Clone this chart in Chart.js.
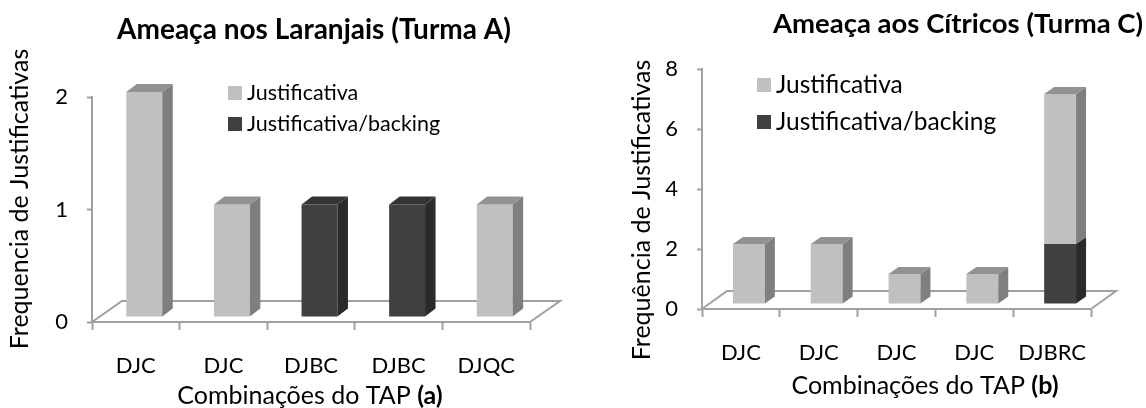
<!DOCTYPE html>
<html>
<head>
<meta charset="utf-8">
<script src="https://cdn.jsdelivr.net/npm/chart.js@4.4.0/dist/chart.umd.min.js"></script>
<style>
    html, body { margin: 0; padding: 0; background: #fff; overflow: hidden; }
    .box { position: absolute; top: 0; width: 573px; height: 408px; }
</style>
</head>
<body>
<div class="box" style="left:0"><canvas id="chartA" width="573" height="408"></canvas></div>
<div class="box" style="left:573px"><canvas id="chartC" width="573" height="408"></canvas></div>

<script>
// Turma A - Ameaca nos Laranjais
var labelsA = ['DJC', 'DJC', 'DJBC', 'DJBC', 'DJQC'];
var justificativaA = [2, 1, 0, 0, 1];
var backingA = [0, 0, 1, 1, 0];
var ticksA = [0, 1, 2];

// Turma C - Ameaca aos Citricos
var labelsC = ['DJC', 'DJC', 'DJC', 'DJC', 'DJBRC'];
var justificativaC = [2, 2, 1, 1, 5];
var backingC = [0, 0, 0, 0, 2];
var ticksC = [0, 2, 4, 6, 8];

var FONT = 'Lato, "Open Sans", sans-serif';
var LIGHT = '#c0c0c0';
var DARK = '#404040';
var AXIS = '#a0a0a0';

// side / top shades for the fake 3D look
var shades = {};
shades[LIGHT] = { side: '#7f7f7f', top: '#929292' };
shades[DARK] = { side: '#2a2a2a', top: '#343434' };

// draws the floor, then the bars shifted back a bit, then their side and top faces
var bar3d = {
    id: 'bar3d',
    beforeDatasetsDraw: function(chart, args, opts) {
        var a = chart.chartArea, ctx = chart.ctx;
        ctx.save();
        ctx.strokeStyle = AXIS;
        ctx.lineWidth = 2;
        ctx.beginPath();
        ctx.moveTo(a.left, a.bottom);
        ctx.lineTo(a.left + opts.floor[0], a.bottom + opts.floor[1]);
        ctx.lineTo(a.right + opts.floor[0], a.bottom + opts.floor[1]);
        ctx.lineTo(a.right, a.bottom);
        ctx.stroke();
        ctx.restore();
        ctx.save();
        ctx.translate(opts.shift[0], opts.shift[1]);
    },
    afterDatasetsDraw: function(chart, args, opts) {
        var ctx = chart.ctx, dx = opts.depth[0], dy = opts.depth[1];
        var sets = chart.data.datasets;
        for (var i = 0; i < chart.data.labels.length; i++) {
            var topIdx = -1;
            sets.forEach(function(ds, d) { if (ds.data[i] > 0) topIdx = d; });
            sets.forEach(function(ds, d) {
                if (!(ds.data[i] > 0)) return;
                var p = chart.getDatasetMeta(d).data[i].getProps(['x', 'y', 'base', 'width'], true);
                var l = p.x - p.width / 2, r = p.x + p.width / 2;
                var c = shades[ds.backgroundColor];
                ctx.fillStyle = c.side;
                ctx.beginPath();
                ctx.moveTo(r, p.base);
                ctx.lineTo(r + dx, p.base + dy);
                ctx.lineTo(r + dx, p.y + dy);
                ctx.lineTo(r, p.y);
                ctx.closePath();
                ctx.fill();
                if (d === topIdx) {
                    ctx.fillStyle = c.top;
                    ctx.beginPath();
                    ctx.moveTo(l, p.y);
                    ctx.lineTo(l + dx, p.y + dy);
                    ctx.lineTo(r + dx, p.y + dy);
                    ctx.lineTo(r, p.y);
                    ctx.closePath();
                    ctx.fill();
                }
            });
        }
        ctx.restore();
    }
};

// titles, axis titles and the legend inside the plot
var texts = {
    id: 'texts',
    afterDraw: function(chart, args, o) {
        var ctx = chart.ctx;
        ctx.save();
        ctx.fillStyle = '#000';
        ctx.textBaseline = 'middle';

        ctx.font = 'bold ' + o.titleSize + 'px ' + FONT;
        ctx.textAlign = 'center';
        ctx.fillText(o.title, o.titlePos[0], o.titlePos[1]);

        // x title: plain part + bold letter
        ctx.textAlign = 'left';
        var plain = o.xTitle[0], bold = o.xTitle[1];
        ctx.font = o.axisSize + 'px ' + FONT;
        var w1 = ctx.measureText(plain).width;
        ctx.font = 'bold ' + o.axisSize + 'px ' + FONT;
        var w2 = ctx.measureText(bold).width;
        var x0 = o.xTitlePos[0] - (w1 + w2) / 2;
        ctx.font = o.axisSize + 'px ' + FONT;
        ctx.fillText(plain, x0, o.xTitlePos[1]);
        ctx.font = 'bold ' + o.axisSize + 'px ' + FONT;
        ctx.fillText(bold, x0 + w1, o.xTitlePos[1]);

        // y title
        ctx.save();
        ctx.translate(o.yTitlePos[0], o.yTitlePos[1]);
        ctx.rotate(-Math.PI / 2);
        ctx.textAlign = 'center';
        ctx.font = o.axisSize + 'px ' + FONT;
        ctx.fillText(o.yTitle, 0, 0);
        ctx.restore();

        // legend, top entry first
        ctx.font = o.legendSize + 'px ' + FONT;
        ctx.textAlign = 'left';
        var sets = chart.data.datasets.slice().reverse();
        sets.forEach(function(ds, k) {
            var y = o.legendPos[1] + k * o.legendGap;
            ctx.fillStyle = ds.backgroundColor;
            ctx.fillRect(o.legendPos[0], y - 7, 14, 14);
            ctx.fillStyle = '#000';
            ctx.fillText(ds.label, o.legendPos[0] + 19, y);
        });
        ctx.restore();
    }
};

function createChart(ctx, labels, just, backing, ticks, box, deco) {
    return new Chart(ctx, {
        type: 'bar',
        data: {
            labels: labels,
            datasets: [
                { label: 'Justificativa/backing', data: backing, backgroundColor: DARK, borderWidth: 0 },
                { label: 'Justificativa', data: just, backgroundColor: LIGHT, borderWidth: 0 }
            ]
        },
        options: {
            responsive: false,
            animation: false,
            events: [],
            layout: { padding: { top: box.top, right: box.right, left: 0, bottom: 0 } },
            datasets: { bar: { categoryPercentage: 1, barPercentage: 0.41 } },
            scales: {
                x: {
                    stacked: true,
                    afterFit: function(s) { s.height = box.xHeight; },
                    grid: { offset: true, drawOnChartArea: false, tickLength: 8, tickColor: AXIS, tickWidth: 2 },
                    border: { color: AXIS, width: 2 },
                    ticks: { color: '#000', padding: 23, font: { family: FONT, size: 22 } }
                },
                y: {
                    stacked: true,
                    min: ticks[0],
                    max: ticks[ticks.length - 1],
                    afterFit: function(s) { s.width = box.yWidth; },
                    afterBuildTicks: function(s) { s.ticks = ticks.map(function(v) { return { value: v }; }); },
                    grid: { drawOnChartArea: false, tickLength: 5, tickColor: AXIS, tickWidth: 2 },
                    border: { color: AXIS, width: 2 },
                    ticks: { color: '#000', padding: 19, font: { family: FONT, size: 22 } }
                }
            },
            plugins: {
                legend: { display: false },
                tooltip: { enabled: false },
                bar3d: deco.bar3d,
                texts: deco.texts
            }
        },
        plugins: [bar3d, texts]
    });
}

createChart(document.getElementById('chartA').getContext('2d'), labelsA, justificativaA, backingA, ticksA,
    { top: 97, right: 43, yWidth: 92, xHeight: 86 },
    {
        bar3d: { floor: [30, -21], shift: [8.5, -5], depth: [10.5, -8] },
        texts: {
            title: 'Ameaça nos Laranjais (Turma A)', titlePos: [314, 30], titleSize: 28,
            xTitle: ['Combinações do TAP ', '(a)'], xTitlePos: [310, 396],
            yTitle: 'Frequencia de Justificativas', yTitlePos: [20, 199], axisSize: 25,
            legendPos: [228, 93], legendGap: 31, legendSize: 21.5
        }
    });

createChart(document.getElementById('chartC').getContext('2d'), labelsC, justificativaC, backingC, ticksC,
    { top: 69, right: 55, yWidth: 129, xHeight: 99 },
    {
        bar3d: { floor: [25, -18], shift: [8, -5], depth: [10, -7] },
        texts: {
            title: 'Ameaça aos Cítricos (Turma C)', titlePos: [385, 24], titleSize: 27.5,
            xTitle: ['Combinações do TAP ', '(b)'], xTitlePos: [352, 386],
            yTitle: 'Frequência de Justificativas', yTitlePos: [69, 210], axisSize: 25,
            legendPos: [184, 85], legendGap: 37, legendSize: 24.5
        }
    });
</script>
</body>
</html>
